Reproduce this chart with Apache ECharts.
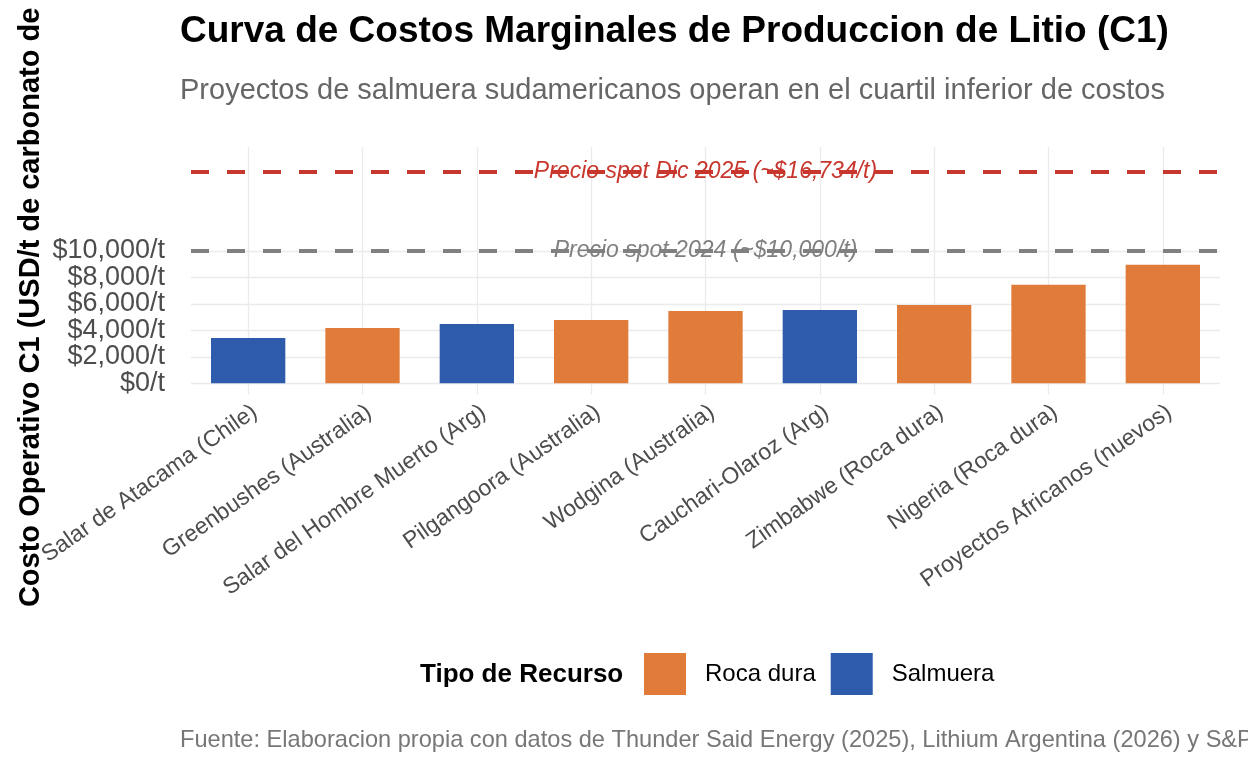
<!DOCTYPE html>
<html>
<head>
<meta charset="utf-8">
<script src="https://cdn.jsdelivr.net/npm/echarts@6/dist/echarts.min.js"></script>
<style>
  html, body { margin: 0; padding: 0; background: #fff; }
  #chart { width: 1248px; height: 768px; }
</style>
</head>
<body>
<div id="chart"></div>
<script>
// datos
const proyectos = [
  'Salar de Atacama (Chile)', 'Greenbushes (Australia)', 'Salar del Hombre Muerto (Arg)',
  'Pilgangoora (Australia)', 'Wodgina (Australia)', 'Cauchari-Olaroz (Arg)',
  'Zimbabwe (Roca dura)', 'Nigeria (Roca dura)', 'Proyectos Africanos (nuevos)'
]
const costos = [3430, 4180, 4480, 4790, 5470, 5540, 5920, 7450, 8950]
const tipos = ['Salmuera', 'Roca dura', 'Salmuera', 'Roca dura', 'Roca dura', 'Salmuera', 'Roca dura', 'Roca dura', 'Roca dura']
const tiposRecurso = ['Roca dura', 'Salmuera']
const yTicks = [0, 2000, 4000, 6000, 8000, 10000]
const precio2024 = 10000
const precioDic2025 = 15970

const FONT = '"Liberation Sans", Arial, sans-serif'
const colores = { 'Roca dura': '#E07B39', 'Salmuera': '#2E5BAB' }
const Y_MIN = -850, Y_MAX = 17860

const fmt = v => '$' + v.toLocaleString('en-US') + '/t'

// las etiquetas del eje y estan muy juntas: se reparten en dos ejes superpuestos
// para que echarts no oculte ninguna por solapamiento
const ticksPares = yTicks.filter((_, i) => i % 2 === 0)
const ticksImpares = yTicks.filter((_, i) => i % 2 === 1)
const yLabel = vals => ({
  customValues: vals, formatter: fmt, margin: 26,
  showMinLabel: true, showMaxLabel: true,
  fontFamily: FONT, fontSize: 27, color: '#4d4d4d'
})

const chart = echarts.init(document.getElementById('chart'), null, { renderer: 'canvas' })

const barSeries = tiposRecurso.map(t => ({
  name: t,
  type: 'bar',
  stack: 'costo',
  barWidth: '65%',
  z: 3,
  itemStyle: { color: colores[t] },
  data: costos.map((v, i) => tipos[i] === t ? v : '-')
}))

const option = {
  animation: false,
  textStyle: { fontFamily: FONT },
  title: [
    {
      text: 'Curva de Costos Marginales de Produccion de Litio (C1)',
      left: 180, top: 12, padding: 0,
      textStyle: { fontFamily: FONT, fontSize: 37, fontWeight: 'bold', color: '#000', lineHeight: 40 }
    },
    {
      text: 'Proyectos de salmuera sudamericanos operan en el cuartil inferior de costos',
      left: 180, top: 75, padding: 0,
      textStyle: { fontFamily: FONT, fontSize: 29, fontWeight: 'normal', color: '#666', lineHeight: 32 }
    },
    {
      text: 'Tipo de Recurso',
      left: 420, top: 661, padding: 0,
      textStyle: { fontFamily: FONT, fontSize: 26, fontWeight: 'bold', color: '#000', lineHeight: 28 }
    },
    {
      text: 'Fuente: Elaboracion propia con datos de Thunder Said Energy (2025), Lithium Argentina (2026) y S&P Global (2025)',
      left: 180, top: 727, padding: 0,
      textStyle: { fontFamily: FONT, fontSize: 23.6, fontWeight: 'normal', color: '#777', lineHeight: 26 }
    }
  ],
  legend: {
    data: tiposRecurso,
    left: 644, top: 653, padding: 0,
    icon: 'rect', itemWidth: 42, itemHeight: 42, itemGap: 15,
    textStyle: { fontFamily: FONT, fontSize: 24, color: '#000', padding: [0, 0, 0, 14] }
  },
  grid: {
    left: 191, right: 28, top: 147, bottom: 373.5,
    containLabel: false, outerBoundsMode: 'none'
  },
  xAxis: {
    type: 'category',
    data: proyectos,
    boundaryGap: true,
    axisLine: { show: false },
    axisTick: { show: false },
    splitLine: { show: false },
    axisLabel: {
      interval: 0, rotate: 35, margin: 6, verticalAlign: 'top',
      fontSize: 23, color: '#4d4d4d', fontFamily: FONT
    }
  },
  yAxis: [
    {
      type: 'value', position: 'left', offset: 0,
      min: Y_MIN, max: Y_MAX,
      name: 'Costo Operativo C1 (USD/t de carbonato de litio)',
      nameLocation: 'middle', nameRotate: 90, nameGap: 146,
      nameTextStyle: { fontFamily: FONT, fontSize: 29, fontWeight: 'bold', color: '#000', padding: [0, 4, 0, 0] },
      axisLine: { show: false },
      axisTick: { show: false, customValues: yTicks },
      axisLabel: yLabel(ticksPares),
      splitLine: { show: true, lineStyle: { color: '#EBEBEB', width: 1.3 } }
    },
    {
      type: 'value', position: 'left', offset: 0,
      min: Y_MIN, max: Y_MAX,
      axisLine: { show: false },
      axisTick: { show: false, customValues: ticksImpares },
      axisLabel: yLabel(ticksImpares),
      splitLine: { show: false }
    }
  ],
  series: [
    {
      // lineas de grilla verticales en el centro de cada categoria
      name: 'grid-x', type: 'line', data: [], z: 1, silent: true,
      markLine: {
        silent: true, symbol: 'none', animation: false, z: 1,
        label: { show: false },
        lineStyle: { color: '#EBEBEB', width: 1.3, type: 'solid' },
        data: proyectos.map(p => ({ xAxis: p }))
      }
    },
    ...barSeries,
    {
      name: 'precios', type: 'line', data: [], z: 5, silent: true,
      markLine: {
        silent: true, symbol: 'none', animation: false,
        data: [
          {
            yAxis: precioDic2025,
            lineStyle: { color: '#C8372D', width: 4, type: [18, 18] },
            label: {
              show: true, position: 'middle', distance: -11,
              formatter: 'Precio spot Dic 2025 (~$16,734/t)',
              fontFamily: FONT, fontSize: 23, fontStyle: 'italic', color: '#C8372D'
            }
          },
          {
            yAxis: precio2024,
            lineStyle: { color: '#808080', width: 4, type: [18, 18] },
            label: {
              show: true, position: 'middle', distance: -11,
              formatter: 'Precio spot 2024 (~$10,000/t)',
              fontFamily: FONT, fontSize: 23, fontStyle: 'italic', color: '#808080'
            }
          }
        ]
      }
    }
  ]
}

chart.setOption(option)
window.addEventListener('resize', () => chart.resize())
</script>
</body>
</html>
